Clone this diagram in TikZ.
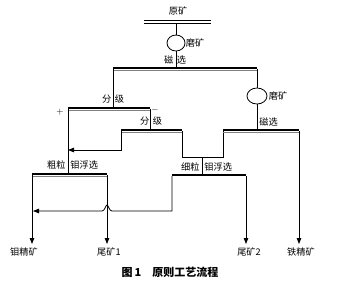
\documentclass[tikz,border=0pt]{standalone}
\usepackage{fontspec}
\newfontfamily\cjk{Noto Sans CJK SC}
\usetikzlibrary{arrows.meta,shapes.geometric}
\begin{document}
\begin{tikzpicture}[x=1pt,y=-1pt,line width=0.8pt,
  lbl/.style={font=\cjk\fontsize{9.2}{10}\selectfont,inner sep=0pt},
  bar/.style={line width=1.8pt},
  subbar/.style={line width=0.7pt,gray},
  flow/.style={-{Triangle[length=6pt,width=4.5pt]}}]
\useasboundingbox (0,0) rectangle (350,282);
% raw ore
\node[lbl] (ore) at (178,11) {原矿};
\draw[line width=0.6pt] (144,20.5) -- (211,20.5) (144,23) -- (211,23);
\node[draw,ellipse,minimum width=18pt,minimum height=16pt,inner sep=0pt] (mill1) at (176,43) {};
\node[lbl,anchor=west] at (mill1.east) {磨矿};
\draw (176,23) -- (mill1.north) (mill1.south) -- (176,68);
\node[lbl] (mag1) at (175,60) {磁\ \,选};
% magnetic separation 1
\draw[bar] (113,68) -- (257,68);
\draw[subbar] (113,70.5) -- (257,70.5);
\draw (113,69) -- (113,108);
\node[lbl] (cls1) at (113,99) {分\ \,级};
\draw[bar] (68,108) -- (150,108);
\draw[subbar] (68,110.5) -- (150,110.5);
\node[font=\small] (plus) at (60,112) {+};
\node[font=\small] (minus) at (155,110) {$-$};
\draw (150,109) -- (150,130);
\node[lbl] (cls2) at (151,121) {分\ \,级};
\draw[bar] (121,130) -- (182,130);
\draw[subbar] (121,132.5) -- (182,132.5);
\draw[flow] (121,131) -- (121,150) -- (68,150);
\draw (182,131) -- (182,157) -- (223,157) -- (223,131);
% second grinding and magnetic separation
\node[draw,ellipse,minimum width=20pt,minimum height=16pt,inner sep=0pt] (mill2) at (257,96) {};
\node[lbl,anchor=west] at ([xshift=1pt]mill2.east) {磨矿};
\draw (257,69) -- (mill2.north) (mill2.south) -- (257,130);
\node[lbl,anchor=west] (mag2) at (259,122) {磁选};
\draw[bar] (223,130) -- (299,130);
\draw[subbar] (223,132.5) -- (299,132.5);
% coarse flotation
\draw (68,109) -- (68,174);
\node[lbl,anchor=east] (coarse) at (66,165) {粗粒};
\node[lbl,anchor=west] (moflot1) at (70,165) {钼浮选};
\draw[bar] (32,174) -- (107,174);
\draw[subbar] (32,176.5) -- (107,176.5);
% fine flotation
\draw (202,157) -- (202,175);
\node[lbl,anchor=east] (fine) at (200,167) {细粒};
\node[lbl,anchor=west] (moflot2) at (204,167) {钼浮选};
\draw[bar] (172,175) -- (246,175);
% products
\node[lbl] (moconc) at (24,252) {钼精矿};
\node[lbl] (tail1) at (109,252) {尾矿1};
\node[lbl] (tail2) at (249,252) {尾矿2};
\node[lbl] (feconc) at (301,252) {铁精矿};
\draw[flow] (32,175) -- (32,244);
\draw[flow] (107,175) -- (107,244);
\draw[flow] (246,176) -- (246,244);
\draw[flow] (299,131) -- (299,244);
\draw[flow] (172,176) -- (172,211) -- (112,211) .. controls (109,211) and (108.5,205) .. (107,205) .. controls (105.5,205) and (105,211) .. (102,211) -- (33,211);
% caption
\node[font=\cjk\bfseries\fontsize{11}{13}\selectfont,inner sep=0pt] (cap) at (170,272) {图\,1\quad 原则工艺流程};
\end{tikzpicture}
\end{document}
